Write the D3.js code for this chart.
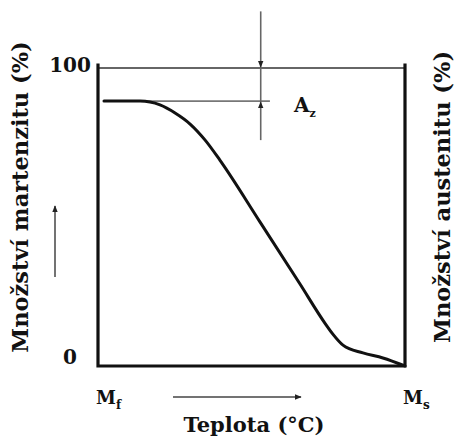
<!DOCTYPE html>
<html>
<head>
<meta charset="utf-8">
<script src="https://cdn.jsdelivr.net/npm/d3@7"></script>
<style>
  body { margin: 0; background: #fff; }
  svg text { font-family: "DejaVu Serif", "Liberation Serif", serif; font-weight: bold; fill: #111; }
</style>
</head>
<body>
<script>
// curve: podíl martenzitu (%) vs. teplota (0 = Mf, 100 = Ms)
const tempPct = [1.95, 13.7, 20.2, 25.1, 30.0, 34.9, 39.7, 52.8, 65.8, 73.9, 76.5, 79.8, 86.3, 92.8, 100];
const martPct = [88.9, 88.9, 87.6, 84.9, 81.2, 75.8, 69.1, 48.3, 27.5, 14.4, 10.7, 7.0, 4.4, 2.7, 0];
const yTicks = [0, 100];
const xTicks = [{v: 0, base: 'M', sub: 'f'}, {v: 100, base: 'M', sub: 's'}];
const plateau = 88.9;      // horizontal reference line
const azX = 53;            // where the A_z dimension sits
const refLineEnd = 56;

const W = 454, H = 441;
const pLeft = 98, pRight = 405, pTop = 68, pBottom = 366;

const svg = d3.select('body').append('svg')
    .attr('width', W)
    .attr('height', H);

const defs = svg.append('defs');
defs.append('marker')
    .attr('id', 'arr')
    .attr('viewBox', '0 0 10 10')
    .attr('refX', 9).attr('refY', 5)
    .attr('markerWidth', 7).attr('markerHeight', 7)
    .attr('markerUnits', 'userSpaceOnUse')
    .attr('orient', 'auto')
    .append('path')
    .attr('d', 'M0,1 L10,5 L0,9 Z')
    .attr('fill', '#222');

const x = d3.scaleLinear().domain([0, 100]).range([pLeft, pRight]);
const y = d3.scaleLinear().domain([0, 100]).range([pBottom, pTop]);

// top line (100 %) - thin gray
svg.append('line')
    .attr('x1', x(0)).attr('x2', x(100))
    .attr('y1', y(100)).attr('y2', y(100))
    .attr('stroke', '#666').attr('stroke-width', 1.8);

// plateau reference line
svg.append('line')
    .attr('x1', x(2)).attr('x2', x(refLineEnd))
    .attr('y1', y(plateau)).attr('y2', y(plateau))
    .attr('stroke', '#777').attr('stroke-width', 1.6);

// vertical dimension line for A_z
svg.append('line')
    .attr('x1', x(azX)).attr('x2', x(azX))
    .attr('y1', y(119)).attr('y2', y(75.8))
    .attr('stroke', '#666').attr('stroke-width', 1.6);

// small arrowheads on the dimension line
svg.append('line')
    .attr('x1', x(azX)).attr('x2', x(azX))
    .attr('y1', y(104)).attr('y2', y(100) - 1)
    .attr('stroke', 'none')
    .attr('marker-end', 'url(#arr)');
svg.append('line')
    .attr('x1', x(azX)).attr('x2', x(azX))
    .attr('y1', y(84)).attr('y2', y(plateau) + 1)
    .attr('stroke', 'none')
    .attr('marker-end', 'url(#arr)');

// frame: left, right, bottom (thick black)
svg.append('path')
    .attr('d', `M${x(0)},${y(101.5)} V${y(0)} H${x(100)} V${y(101.5)}`)
    .attr('fill', 'none')
    .attr('stroke', '#111')
    .attr('stroke-width', 3.2);

// curve
const pts = tempPct.map((t, i) => [t, martPct[i]]);
svg.append('path')
    .datum(pts)
    .attr('fill', 'none')
    .attr('stroke', '#111')
    .attr('stroke-width', 3)
    .attr('stroke-linecap', 'round')
    .attr('d', d3.line()
        .x(d => x(d[0]))
        .y(d => y(d[1]))
        .curve(d3.curveMonotoneX));

// y tick labels
svg.append('g')
    .selectAll('text')
    .data(yTicks)
    .enter()
    .append('text')
    .attr('x', 70)
    .attr('y', d => y(d) + (d === 0 ? -2 : 4))
    .attr('text-anchor', 'middle')
    .attr('font-size', 20)
    .text(d => d);

// x tick labels with subscripts
const xt = svg.append('g')
    .selectAll('text')
    .data(xTicks)
    .enter()
    .append('text')
    .attr('x', d => x(d.v) - 2)
    .attr('y', 404)
    .attr('text-anchor', 'start')
    .attr('font-size', 18);
xt.append('tspan').text(d => d.base);
xt.append('tspan').attr('dy', 5).attr('font-size', 12).text(d => d.sub);

// A_z label
const az = svg.append('text')
    .attr('x', 294)
    .attr('y', 112)
    .attr('font-size', 20);
az.append('tspan').text('A');
az.append('tspan').attr('dy', 5).attr('font-size', 11).text('z');

// axis titles
svg.append('text')
    .attr('transform', `translate(28,197) rotate(-90)`)
    .attr('text-anchor', 'middle')
    .attr('font-size', 22.5)
    .text('Množství martenzitu (%)');

svg.append('text')
    .attr('transform', `translate(450,197) rotate(-90)`)
    .attr('text-anchor', 'middle')
    .attr('font-size', 22.5)
    .text('Množství austenitu (%)');

svg.append('text')
    .attr('x', 254)
    .attr('y', 432)
    .attr('text-anchor', 'middle')
    .attr('font-size', 21)
    .text('Teplota (°C)');

// direction arrows
svg.append('line')
    .attr('x1', 55).attr('x2', 55)
    .attr('y1', 277).attr('y2', 206)
    .attr('stroke', '#444').attr('stroke-width', 1.5)
    .attr('marker-end', 'url(#arr)');

svg.append('line')
    .attr('x1', 173).attr('x2', 301)
    .attr('y1', 397).attr('y2', 397)
    .attr('stroke', '#444').attr('stroke-width', 1.5)
    .attr('marker-end', 'url(#arr)');
</script>
</body>
</html>
